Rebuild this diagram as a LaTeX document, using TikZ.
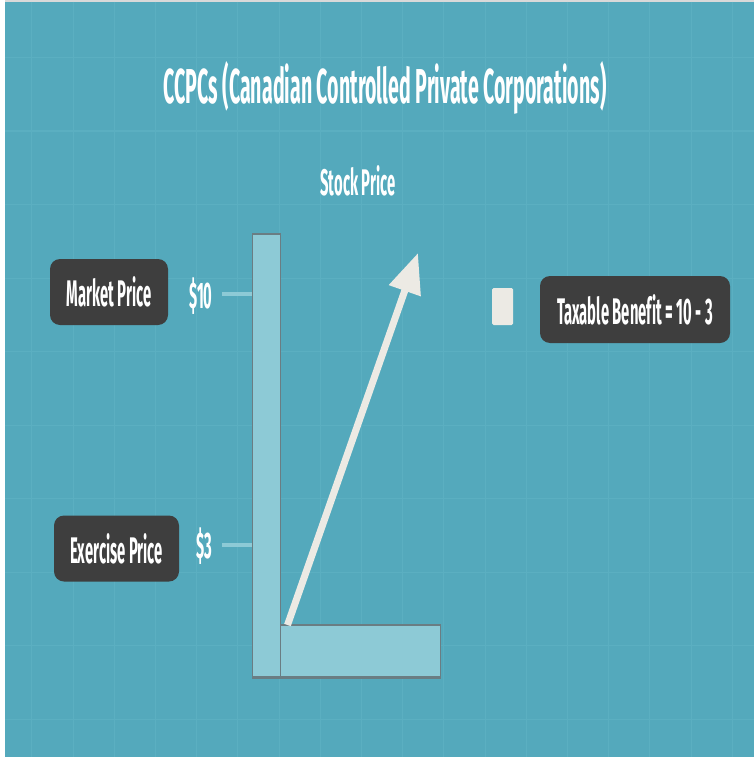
\documentclass[tikz,border=0pt]{standalone}
\usepackage{fontspec}
\setmainfont{Fira Sans}[FakeStretch=0.40, Ligatures=NoCommon]
\usetikzlibrary{arrows.meta}
\definecolor{bgteal}{HTML}{54A9BC}
\definecolor{gridteal}{HTML}{5BAFC1}
\definecolor{barblue}{HTML}{8DCAD6}
\definecolor{baredge}{HTML}{6A7D83}
\definecolor{labelgrey}{HTML}{3E3E3E}
\definecolor{cream}{HTML}{ECEAE4}
\begin{document}
\begin{tikzpicture}[x=1pt,y=-1pt,
  txt/.style={text=white, inner sep=0pt, font=\fontsize{37}{39}\selectfont\bfseries},
  lbl/.style={txt, fill=labelgrey, rounded corners=10pt, minimum height=66pt},
  bar/.style={fill=barblue, draw=baredge, line width=0.6pt, inner sep=0pt, anchor=north west},
  tick/.style={barblue, line width=4pt}]
\useasboundingbox (0,0) rectangle (754,757);
\fill[white] (0,0) rectangle (754,757);
\fill[bgteal] (5,2) rectangle (754,757);
\fill[gray!30] (5,0) rectangle (754,2);
% grid
\foreach \k in {0,...,17}
  \draw[gridteal, line width=1pt] ({31.8+41.2*\k},2) -- ++(0,755);
\foreach \k in {0,...,9}
  \draw[gridteal, line width=1pt] (5,{57.5+73.5*\k}) -- ++(749,0);

\node[txt, font=\fontsize{49}{51}\selectfont\bfseries] (title) at (385,88) {CCPCs (Canadian Controlled Private Corporations)};
\node[txt] (stock) at (358,181) {Stock Price};

% bars
\node[bar, minimum width=28pt, minimum height=443pt] (vbar) at (252,234) {};
\node[bar, minimum width=160pt, minimum height=52pt] (hbar) at (280,625) {};
\draw[baredge, line width=2.5pt] (vbar.north west) -- (vbar.north east);
\draw[baredge, line width=2.5pt] (hbar.north west) -- (hbar.north east);
\draw[baredge, line width=2.5pt] (vbar.south west) -- (hbar.south east);

% prices
\node[txt] (ten) at (201,296) {\$10};
\node[txt] (three) at (204,546) {\$3};
\coordinate (tenend) at (222,294);
\coordinate (threeend) at (222,545);
\draw[tick] (tenend) -- (tenend -| vbar.west);
\draw[tick] (threeend) -- (threeend -| vbar.west);
\node[lbl, minimum width=118pt] (market) at (109,292) {Market Price};
\node[lbl, minimum width=125pt] (exercise) at (116.5,548.5) {Exercise Price};

% arrow
\coordinate (arrowstart) at (287.5,625);
\coordinate (arrowtip) at (418,253);
\draw[cream, line width=7pt, -{Triangle[length=40pt,width=32pt]}] (arrowstart) -- (arrowtip);

% benefit
\node[fill=cream, rounded corners=1.5pt, minimum width=21pt, minimum height=37pt, inner sep=0pt] (mark) at (502.5,306.5) {};
\node[lbl, minimum width=190pt, minimum height=67pt] (benefit) at (635,309.5) {Taxable Benefit = 10 - 3};
\end{tikzpicture}
\end{document}
